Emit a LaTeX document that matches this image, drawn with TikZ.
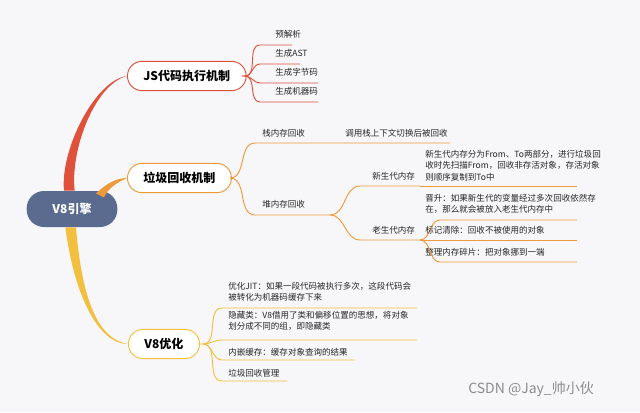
\documentclass[tikz,border=0pt]{standalone}
\usepackage{fontspec}
\setmainfont{Noto Sans CJK SC}
\begin{document}
\begin{tikzpicture}[x=0.75pt,y=-0.75pt,
  txt/.style={anchor=base west,inner sep=0pt,font=\fontsize{6.4}{8.6}\selectfont,align=left,text=black!85},
  box/.style={draw=#1,line width=0.7pt,fill=white,rounded corners=11pt,inner xsep=12pt,minimum height=22pt,font=\fontsize{9}{10}\selectfont\bfseries},
  ln/.style={draw=#1,line width=0.7pt}]
\definecolor{cred}{HTML}{E0513C}
\definecolor{corg}{HTML}{EE9A3A}
\definecolor{cyel}{HTML}{F2C03E}
\definecolor{croot}{HTML}{5B6B8F}
\fill[fill={rgb,255:red,247;green,247;blue,249}] (0,0) rectangle (640,412);
\useasboundingbox (0,0) rectangle (640,412);
% root
\node[fill=croot,rounded corners=13pt,minimum width=68pt,minimum height=27pt,text=white,font=\fontsize{9}{10}\selectfont\bfseries] (root) at (72,209) {V8引擎};
\node[box=cred,anchor=west] (js) at (127,76) {JS代码执行机制};
\node[box=corg,anchor=west] (gc) at (127,178) {垃圾回收机制};
\node[box=cyel,anchor=west] (opt) at (128,344) {V8优化};
% trunk curves
\fill[cred] ([xshift=-6pt]root.north) .. controls (60,150) and (95,80) .. (js.west) .. controls (95,84) and (70,150) .. ([xshift=2pt]root.north) -- cycle;
\fill[corg] ([xshift=18pt,yshift=-2pt]root.north) .. controls (105,185) and (115,178) .. (gc.west) .. controls (118,182) and (108,188) .. ([xshift=24pt,yshift=-5pt]root.north) -- cycle;
\fill[cyel] ([xshift=-5pt]root.south) .. controls (75,300) and (100,344) .. (opt.west) .. controls (98,339) and (82,300) .. ([xshift=3pt]root.south) -- cycle;
% JS children
\coordinate (jsb) at (245,76);
\foreach \t/\y/\w [count=\i] in {预解析/45/292,生成AST/64/300,生成字节码/83/318,生成机器码/102/318}{
  \node[txt] (j\i) at (275,\y-8) {\t};
  \coordinate (je\i) at (\w,\y);
  \draw[ln=cred] (js.east) -- (jsb) to[out=0,in=180] (260,\y) -- (je\i);
}
% GC children
\coordinate (gcb) at (230,178);
\node[txt] (stack) at (262,136) {栈内存回收};
\node[txt] (stackd) at (345,136) {调用栈上下文切换后被回收};
\coordinate (se) at (450,143);
\draw[ln=corg] (gc.east) -- (gcb) to[out=0,in=180] (255,143) -- (se);
\node[txt] (heap) at (262,207) {堆内存回收};
\coordinate (he) at (330,215);
\draw[ln=corg] (gcb) to[out=0,in=180] (255,215) -- (he);
\node[txt] (young) at (372,179) {新生代内存};
\coordinate (ye) at (420,186);
\draw[ln=corg] (he) to[out=0,in=180] (360,186) -- (ye);
\node[txt] (old) at (372,233) {老生代内存};
\coordinate (oe) at (420,240);
\draw[ln=corg] (he) to[out=0,in=180] (360,240) -- (oe);
\node[txt,anchor=north west] (yd) at (425,150) {新生代内存分为From、To两部分，进行垃圾回\\收时先扫描From，回收非存活对象，存活对象\\则顺序复制到To中};
\coordinate (yde) at (577,186);
\draw[ln=corg] (ye) -- (yde);
\node[txt,anchor=north west] (o1) at (425,194) {晋升：如果新生代的变量经过多次回收依然存\\在，那么就会被放入老生代内存中};
\coordinate (o1e) at (577,220);
\draw[ln=corg] (oe) to[out=0,in=180] (440,220) -- (o1e);
\node[txt] (o2) at (425,233) {标记清除：回收不被使用的对象};
\coordinate (o2e) at (577,240);
\draw[ln=corg] (oe) -- (o2e);
\node[txt] (o3) at (425,255) {整理内存碎片：把对象挪到一端};
\coordinate (o3e) at (577,262);
\draw[ln=corg] (oe) to[out=0,in=180] (440,262) -- (o3e);
% V8 opt children
\coordinate (ob) at (203,344);
\node[txt,anchor=north west] (p1) at (228,282) {优化JIT：如果一段代码被执行多次，这段代码会\\被转化为机器码缓存下来};
\coordinate (p1e) at (417,308);
\draw[ln=cyel] (opt.east) -- (ob) to[out=0,in=180] (222,308) -- (p1e);
\node[txt,anchor=north west] (p2) at (228,311) {隐藏类：V8借用了类和偏移位置的思想，将对象\\划分成不同的组，即隐藏类};
\coordinate (p2e) at (417,340);
\draw[ln=cyel] (ob) to[out=0,in=180] (222,340) -- (p2e);
\node[txt] (p3) at (228,355) {内嵌缓存：缓存对象查询的结果};
\coordinate (p3e) at (355,360);
\draw[ln=cyel] (ob) to[out=0,in=180] (222,360) -- (p3e);
\node[txt] (p4) at (228,376) {垃圾回收管理};
\coordinate (p4e) at (287,381);
\draw[ln=cyel] (ob) to[out=0,in=180] (222,381) -- (p4e);
% watermark
\node[anchor=base west,inner sep=0pt,text=black!45,font=\fontsize{10.5}{12}\selectfont] (wm) at (468,393) {CSDN @Jay\_帅小伙};
\end{tikzpicture}
\end{document}
